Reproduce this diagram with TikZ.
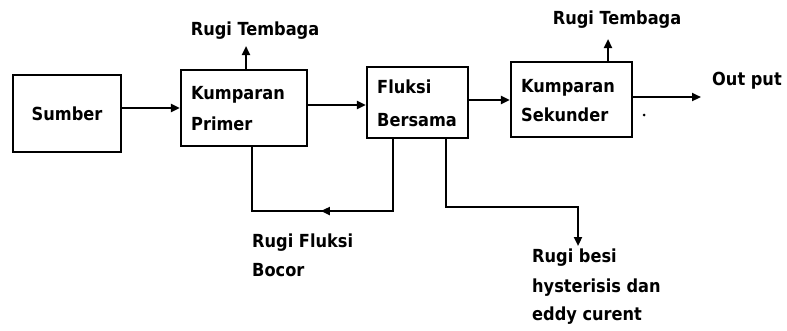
\documentclass[tikz,border=0pt]{standalone}
\usepackage{fontspec}
\setmainfont{DejaVu Sans Condensed}[BoldFont={DejaVu Sans Condensed Bold}]
\usetikzlibrary{arrows.meta,decorations.markings}
\begin{document}
\begin{tikzpicture}[x=1pt,y=-1pt,
  every node/.style={font=\bfseries\fontsize{18}{21}\selectfont},
  blk/.style={draw,line width=2.2pt,inner sep=0pt},
  lbl/.style={inner sep=0pt,align=left},
  conn/.style={line width=2.2pt,line join=miter},
  arr/.style={conn,-{Triangle[length=9pt,width=8pt]}},
  midleft/.style={conn,postaction={decorate},decoration={markings,
    mark=at position 0.52 with {\arrow{Triangle[length=9pt,width=8pt]}}}}]
\useasboundingbox (0,0) rectangle (787,330);
% boxes
\node[blk,minimum width=108pt,minimum height=77pt] (sumber) at (67,113.5) {Sumber};
\node[blk,minimum width=126pt,minimum height=76pt] (primer) at (244,108) {};
\node[blk,minimum width=101pt,minimum height=71pt] (fluksi) at (417.5,102.5) {};
\node[blk,minimum width=121pt,minimum height=75pt] (sekunder) at (571.5,99.5) {};
% box texts
\node[lbl,anchor=west] (tprim) at (191,109) {Kumparan\\[10pt]Primer};
\node[lbl,anchor=west] (tfluk) at (377,103) {Fluksi\\[12pt]Bersama};
\node[lbl,anchor=west] (tsek) at (521,101) {Kumparan\\[8pt]Sekunder};
% top labels
\node[lbl,anchor=south] (rt1) at (255,40) {Rugi Tembaga};
\node[lbl,anchor=south] (rt2) at (617,29) {Rugi Tembaga};
\node[lbl,anchor=west] (out) at (712,81) {Out put};
% bottom labels
\node[lbl,anchor=north west] (bocor) at (252,234) {Rugi Fluksi\\[8pt]Bocor};
\node[lbl,anchor=north west] (besi) at (532,249) {Rugi besi\\[9pt]hysterisis dan\\[7pt]eddy curent};
% coordinates
\coordinate (rt1a) at (246,46);
\coordinate (rt2a) at (608,39);
\coordinate (outp) at (701,97);
\coordinate (l1) at (393,211);
\coordinate (l2) at (252,211);
\coordinate (r1) at (446,207);
\coordinate (r2) at (578,207);
\coordinate (r3) at (578,246);
% connectors
\draw[arr] (sumber.east |- primer.west) -- (primer.west);
\draw[arr] (primer.east |- 0,105) -- (fluksi.west |- 0,105);
\draw[arr] (fluksi.east |- 0,100) -- (sekunder.west |- 0,100);
\draw[arr] (primer.north -| rt1a) -- (rt1a);
\draw[arr] (sekunder.north -| rt2a) -- (rt2a);
\draw[arr] (sekunder.east |- outp) -- (outp);
\draw[midleft] (fluksi.south -| l1) -- (l1) -- (l2) -- (primer.south -| l2);
\draw[arr] (fluksi.south -| r1) -- (r1) -- (r2) -- (r3);
\fill (644,115) circle (1.5pt);
\end{tikzpicture}
\end{document}
